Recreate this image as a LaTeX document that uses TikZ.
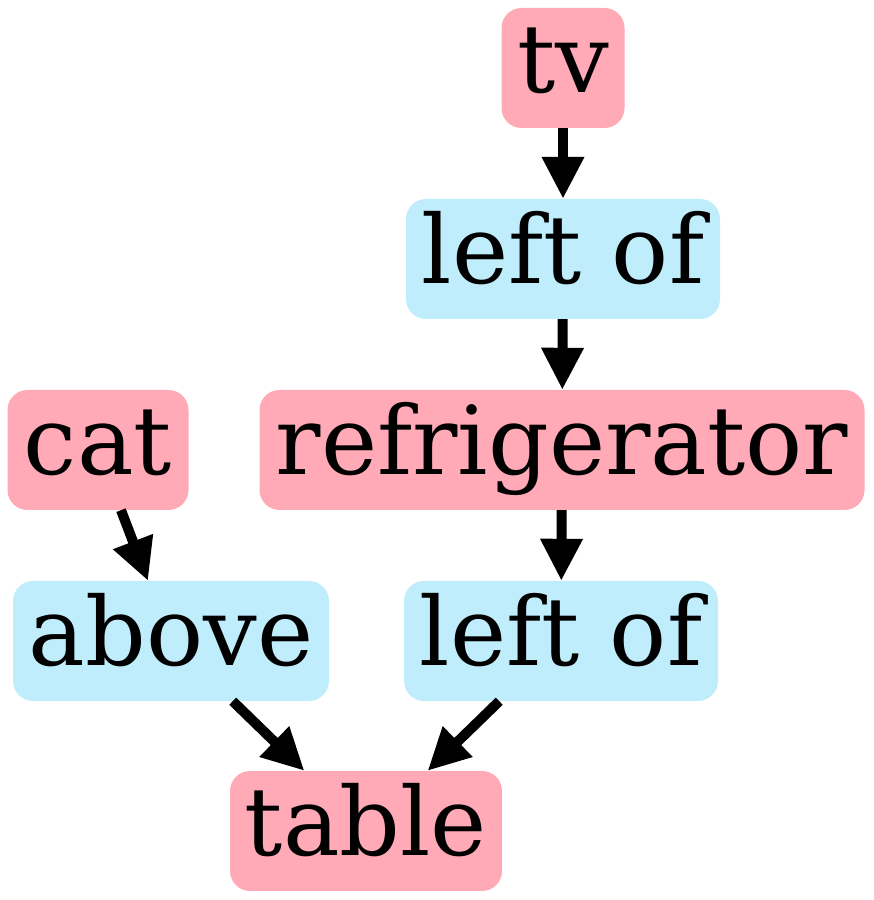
\documentclass[tikz,border=0pt]{standalone}
\usepackage{fontspec}
\setmainfont{DejaVu Serif}
\usetikzlibrary{arrows.meta}
\definecolor{pinkn}{RGB}{255,170,182}
\definecolor{bluen}{RGB}{192,237,252}
\begin{document}
\begin{tikzpicture}[x=1pt,y=1pt,
  box/.style={rounded corners=20pt,inner sep=0pt,minimum height=120pt,
    text height=72pt,text depth=22pt,
    font=\fontsize{95}{95}\selectfont,text=black},
  obj/.style={box,fill=pinkn},
  rel/.style={box,fill=bluen},
  edge/.style={line width=10pt,-{Triangle[length=42pt,width=40pt]}}]
\useasboundingbox (0,0) rectangle (874,900);
\node[obj,minimum width=123pt] (tv) at (563,832) {tv};
\node[rel,minimum width=314pt] (l1) at (563,641) {left of};
\node[obj,minimum width=181pt] (cat) at (98,450) {cat};
\node[obj,minimum width=605pt] (fr) at (562,450) {refrigerator};
\node[rel,minimum width=316pt] (ab) at (171,259) {above};
\node[rel,minimum width=314pt] (l2) at (561,259) {left of};
\node[obj,minimum width=272pt] (tb) at (366,69) {table};
\draw[edge] (tv) -- (l1);
\draw[edge] (l1) -- (fr);
\draw[edge] (cat) -- (ab);
\draw[edge] (fr) -- (l2);
\draw[edge] (ab) -- (tb);
\draw[edge] (l2) -- (tb);
\end{tikzpicture}
\end{document}
